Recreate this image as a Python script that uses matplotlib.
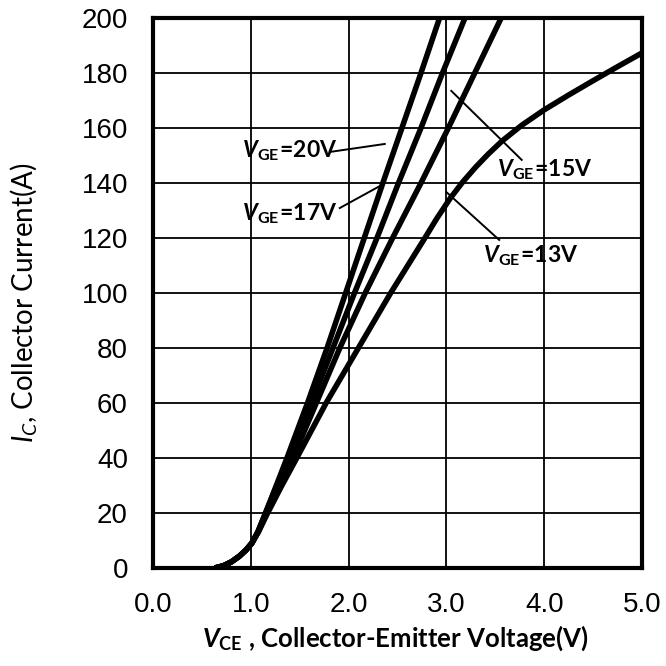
import matplotlib
matplotlib.use('Agg')
import matplotlib.pyplot as plt

# output characteristics, collector current vs collector-emitter voltage
v_20 = [0.63, 0.72, 0.80, 0.88, 0.95, 1.01, 1.07, 1.14, 1.25, 1.37, 1.58, 1.78, 1.97, 2.16, 2.35, 2.545, 2.74, 2.93]
i_20 = [0, 0.8, 2.2, 4.2, 6.5, 9.0, 13.0, 19.0, 29.0, 40, 60, 80, 100, 120, 140, 160, 180, 200]

v_17 = [0.63, 0.72, 0.80, 0.88, 0.95, 1.01, 1.075, 1.145, 1.26, 1.40, 1.62, 1.84, 2.06, 2.29, 2.51, 2.74, 2.96, 3.19]
i_17 = [0, 0.8, 2.2, 4.2, 6.5, 9.0, 13.3, 19.5, 29.5, 40, 60, 80, 100, 120, 140, 160, 180, 200]

v_15 = [0.63, 0.72, 0.80, 0.88, 0.95, 1.01, 1.08, 1.155, 1.28, 1.43, 1.67, 1.91, 2.17, 2.45, 2.74, 3.02, 3.29, 3.56]
i_15 = [0, 0.8, 2.2, 4.2, 6.5, 9.0, 13.3, 19.5, 29.5, 40, 60, 80, 100, 120, 140, 160, 180, 200]

v_13 = [0.63, 0.72, 0.80, 0.88, 0.95, 1.01, 1.08, 1.165, 1.31, 1.47, 1.62, 1.77, 2.10, 2.43, 2.78, 2.90, 3.04, 3.17,
        3.30, 3.43, 3.57, 3.77, 4.00, 4.25, 4.50, 4.75, 5.00]
i_13 = [0, 0.8, 2.2, 4.2, 6.5, 9.0, 13.3, 19.5, 29.5, 40, 50, 60, 80, 100, 120, 127, 134.5, 140.5,
        145.8, 150.6, 155.3, 161, 166.6, 172, 177.2, 182.3, 187.3]

x_ticks = [0, 1, 2, 3, 4, 5]
x_ticklabels = ['0.0', '1.0', '2.0', '3.0', '4.0', '5.0']
y_ticks = [0, 20, 40, 60, 80, 100, 120, 140, 160, 180, 200]

# leader lines: (x0, y0, x1, y1) and label anchors (left, centre)
labels = ['20', '17', '15', '13']
leaders = [(1.81, 151.3, 2.37, 154.2),
           (1.91, 130.9, 2.32, 138.9),
           (3.05, 173.5, 3.77, 148.4),
           (3.00, 136.7, 3.54, 119.3)]
label_pos = [(0.91, 151.6), (0.91, 128.7), (3.52, 144.7), (3.37, 113.5)]

plt.rcParams['mathtext.fontset'] = 'custom'
plt.rcParams['mathtext.rm'] = 'Lato'
plt.rcParams['mathtext.it'] = 'Lato:italic'
plt.rcParams['mathtext.bf'] = 'Lato:bold'
plt.rcParams['mathtext.bfit'] = 'Lato:italic:bold'

fig = plt.figure(figsize=(6.66, 6.66), dpi=100)
ax = fig.add_axes([153 / 666, 1 - 568 / 666, (642 - 153) / 666, (568 - 18) / 666])

for v, i in [(v_20, i_20), (v_17, i_17), (v_15, i_15), (v_13, i_13)]:
    ax.plot(v, i, color='black', lw=4.0, solid_capstyle='butt', solid_joinstyle='round')

for (x0, y0, x1, y1), (tx, ty), lab in zip(leaders, label_pos, labels):
    ax.plot([x0, x1], [y0, y1], color='black', lw=1.4)
    ax.text(tx, ty, r'$\mathbfit{V}_{\mathbf{GE}}\mathbf{\!=\!' + lab + r'V}$',
            fontsize=16.5, ha='left', va='center')

ax.set_xlim(0, 5)
ax.set_ylim(0, 200)
ax.set_xticks(x_ticks)
ax.set_xticklabels(x_ticklabels)
ax.set_yticks(y_ticks)
ax.grid(True, color='black', lw=1.3)
ax.set_axisbelow(True)
for s in ax.spines.values():
    s.set_linewidth(3)
ax.tick_params(axis='both', length=0, labelsize=20)
ax.tick_params(axis='x', pad=17)
ax.tick_params(axis='y', pad=18)
for t in ax.get_xticklabels() + ax.get_yticklabels():
    t.set_fontfamily('Liberation Sans')

fig.text(395 / 666, 1 - 638 / 666, r'$\mathbfit{V}_{\mathbf{CE}}$ , Collector-Emitter Voltage(V)',
         fontfamily='Lato', fontweight='bold', fontsize=18.5, ha='center', va='center')
fig.text(24 / 666, 1 - 303 / 666, r'$I_{C}$, Collector Current(A)',
         fontfamily='Lato', fontsize=20, rotation=90, ha='center', va='center')

fig.savefig('out.png', dpi=100)
